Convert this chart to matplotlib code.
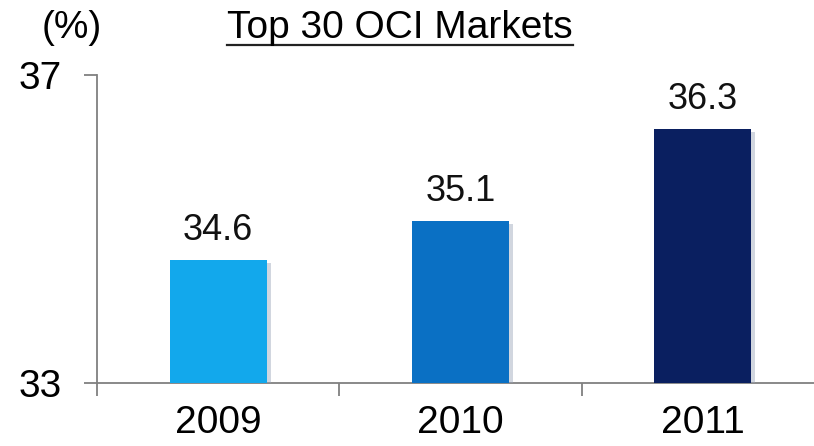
import matplotlib
matplotlib.use("Agg")
import matplotlib.pyplot as plt
from matplotlib.lines import Line2D
import matplotlib.patheffects as pe

years = ["2009", "2010", "2011"]
share = [34.6, 35.1, 36.3]
bar_colors = ["#12A8EC", "#0A70C4", "#0A1F60"]
y_ticks = [33, 37]

plt.rcParams["font.family"] = ["Liberation Sans", "DejaVu Sans"]

fig = plt.figure(figsize=(8.14, 4.46), dpi=100)
ax = fig.add_axes([97 / 814, 63 / 446, 727 / 814, 308 / 446])

x = list(range(len(years)))
bars = ax.bar(x, [v - 33 for v in share], bottom=33, width=0.40,
              color=bar_colors, zorder=3)
for b in bars:
    b.set_path_effects([pe.SimplePatchShadow(offset=(3, -2), shadow_rgbFace="#9aa4b8",
                                             alpha=0.45), pe.Normal()])

ax.set_xlim(-0.5, 2.5)
ax.set_ylim(33, 37)

for xi, v in zip(x, share):
    ax.text(xi, v + 0.26, f"{v:.1f}", ha="center", va="baseline", fontsize=26,
            color="#111111")

for s in ["top", "right"]:
    ax.spines[s].set_visible(False)
for s in ["left", "bottom"]:
    ax.spines[s].set_color("#808080")
    ax.spines[s].set_linewidth(1.3)

ax.set_yticks(y_ticks)
ax.set_yticklabels([str(t) for t in y_ticks], fontsize=28)
ax.tick_params(axis="y", length=9.5, width=1.3, color="#808080", pad=16)

ax.set_xticks(x)
ax.set_xticklabels(years, fontsize=28)
ax.set_xticks([-0.5, 0.5, 1.5], minor=True)
ax.tick_params(axis="x", which="major", length=0, pad=16)
ax.tick_params(axis="x", which="minor", length=9, width=1.3, color="#808080")

fig.text(42 / 814, 1 - 38 / 446, "(%)", fontsize=28, va="baseline", ha="left")
title = fig.text(400 / 814, 1 - 38 / 446, "Top 30 OCI Markets", fontsize=28,
                 va="baseline", ha="center")

fig.canvas.draw()
bb = title.get_window_extent().transformed(fig.transFigure.inverted())
uy = 1 - 44.5 / 446
fig.add_artist(Line2D([bb.x0, bb.x1], [uy, uy],
                      transform=fig.transFigure, color="#222222", lw=1.6))

fig.savefig("out.png", dpi=100, facecolor="white")
